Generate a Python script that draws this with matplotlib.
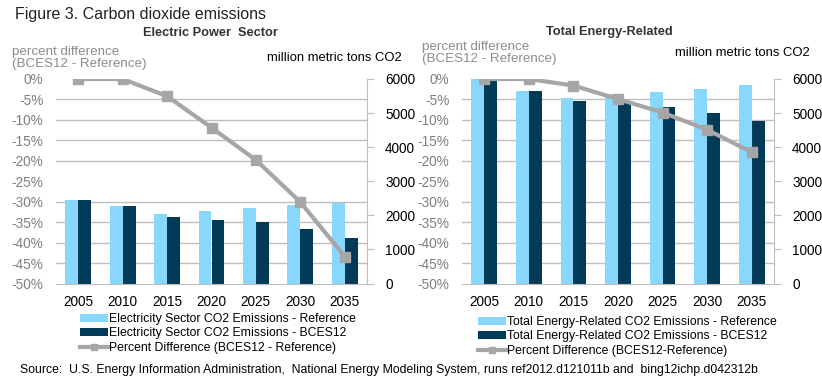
import matplotlib
matplotlib.use("Agg")
import matplotlib.pyplot as plt
from matplotlib.ticker import MultipleLocator
from matplotlib.patches import Patch
from matplotlib.lines import Line2D
import numpy as np

plt.rcParams['font.family'] = ['Liberation Sans', 'DejaVu Sans']

years = ['2005', '2010', '2015', '2020', '2025', '2030', '2035']

elec_ref = [2440, 2280, 2050, 2135, 2220, 2310, 2375]
elec_bces = [2440, 2280, 1960, 1870, 1795, 1610, 1345]
elec_pct = [0.0, 0.0, -4.2, -11.9, -19.8, -30.1, -43.4]

tot_ref = [5995, 5645, 5430, 5550, 5615, 5700, 5820]
tot_bces = [5965, 5645, 5350, 5300, 5175, 5010, 4765]
tot_pct = [0.0, 0.0, -1.6, -4.9, -8.2, -12.4, -17.9]

pct_ticks = [0, -5, -10, -15, -20, -25, -30, -35, -40, -45, -50]
pct_labels = [f'{v}%' for v in pct_ticks]

LIGHT = '#87D7FF'
DARK = '#003A57'
LINEC = '#A6A6A6'
GRID = '#BEBEBE'
PCTC = '#7F7F7F'

W, H = 822, 383
fig = plt.figure(figsize=(W / 100, H / 100), dpi=100)


def fx(px):
    return px / W


def fy(py):
    return 1 - py / H


def make_panel(left_px, right_px, ref, bces, pct, title, title_x, title_y,
               ylab_x, ylab_y, unit_x, unit_y, leg_x, leg_y, labels):
    top_px, bot_px = 79, 283.5
    ax = fig.add_axes([fx(left_px), fy(bot_px), fx(right_px - left_px),
                       (bot_px - top_px) / H])
    x = np.arange(len(years))
    bw = 0.29
    ax.bar(x - bw / 2, ref, bw, color=LIGHT, zorder=2)
    ax.bar(x + bw / 2, bces, bw, color=DARK, zorder=2)
    ax.set_xlim(-0.5, len(years) - 0.5)
    ax.set_ylim(0, 6000)
    ax2 = ax.twinx()

    ax.yaxis.set_ticks_position('right')
    ax.yaxis.set_label_position('right')
    ax.yaxis.set_major_locator(MultipleLocator(1000))
    ax.yaxis.set_minor_locator(MultipleLocator(600))
    ax.grid(True, which='minor', axis='y', color=GRID, lw=1, zorder=0)
    ax.set_axisbelow(True)
    ax.tick_params(axis='y', which='major', length=5, color=GRID,
                   labelsize=9.8, labelcolor='black', pad=8,
                   left=False, labelleft=False, right=True, labelright=True)
    ax.tick_params(axis='y', which='minor', length=0)
    ax.set_xticks(x)
    ax.set_xticklabels(years)
    ax.tick_params(axis='x', length=0, labelsize=9.8, pad=8)
    for s in ['top', 'left']:
        ax.spines[s].set_visible(False)
    ax.spines['right'].set_color(GRID)
    ax.spines['bottom'].set_color(GRID)

    ax2.plot(x, pct, color=LINEC, lw=3, marker='s', ms=7, zorder=5)
    ax2.set_ylim(-50, 0)
    ax2.yaxis.set_ticks_position('left')
    ax2.set_yticks(pct_ticks)
    ax2.set_yticklabels(pct_labels)
    ax2.tick_params(axis='y', length=0, labelsize=9.8, labelcolor=PCTC, pad=9,
                    left=True, labelleft=True, right=False, labelright=False)
    for s in ax2.spines.values():
        s.set_visible(False)

    fig.text(fx(title_x), fy(title_y), title, ha='center', va='center',
             fontsize=9.2, fontweight='bold', color='#333333')
    fig.text(fx(ylab_x), fy(ylab_y), 'percent difference\n(BCES12 - Reference)',
             ha='left', va='center', fontsize=9.6, color='#8C8C8C', linespacing=1.05)
    fig.text(fx(unit_x), fy(unit_y), 'million metric tons CO2', ha='right',
             va='center', fontsize=9.4, color='black')

    handles = [Patch(facecolor=LIGHT, edgecolor='none'),
               Patch(facecolor=DARK, edgecolor='none'),
               Line2D([0], [0], color=LINEC, lw=3, marker='s', ms=5)]
    fig.legend(handles, labels, loc='upper left',
               bbox_to_anchor=(fx(leg_x), fy(leg_y)), frameon=False,
               fontsize=8.8, handlelength=2.3, handleheight=0.6,
               handletextpad=0.1, labelspacing=0.2, borderpad=0,
               borderaxespad=0)
    return ax, ax2


make_panel(56, 367, elec_ref, elec_bces, elec_pct, 'Electric Power  Sector',
           210, 33, 12, 58, 402, 58, 80, 313,
           ['Electricity Sector CO2 Emissions - Reference',
            'Electricity Sector CO2 Emissions - BCES12',
            'Percent Difference (BCES12 - Reference)'])
make_panel(462, 774, tot_ref, tot_bces, tot_pct, 'Total Energy-Related',
           609, 32, 422, 53, 810, 53, 478, 316,
           ['Total Energy-Related CO2 Emissions - Reference',
            'Total Energy-Related CO2 Emissions - BCES12',
            'Percent Difference (BCES12-Reference)'])

fig.text(fx(15), fy(14), 'Figure 3. Carbon dioxide emissions', ha='left',
         va='center', fontsize=11.5, color='#222222')
fig.text(fx(20), fy(370), 'Source:  U.S. Energy Information Administration,  '
         'National Energy Modeling System, runs ref2012.d121011b and  bing12ichp.d042312b',
         ha='left', va='center', fontsize=8.8, color='black')

fig.savefig('out.png', dpi=100)
